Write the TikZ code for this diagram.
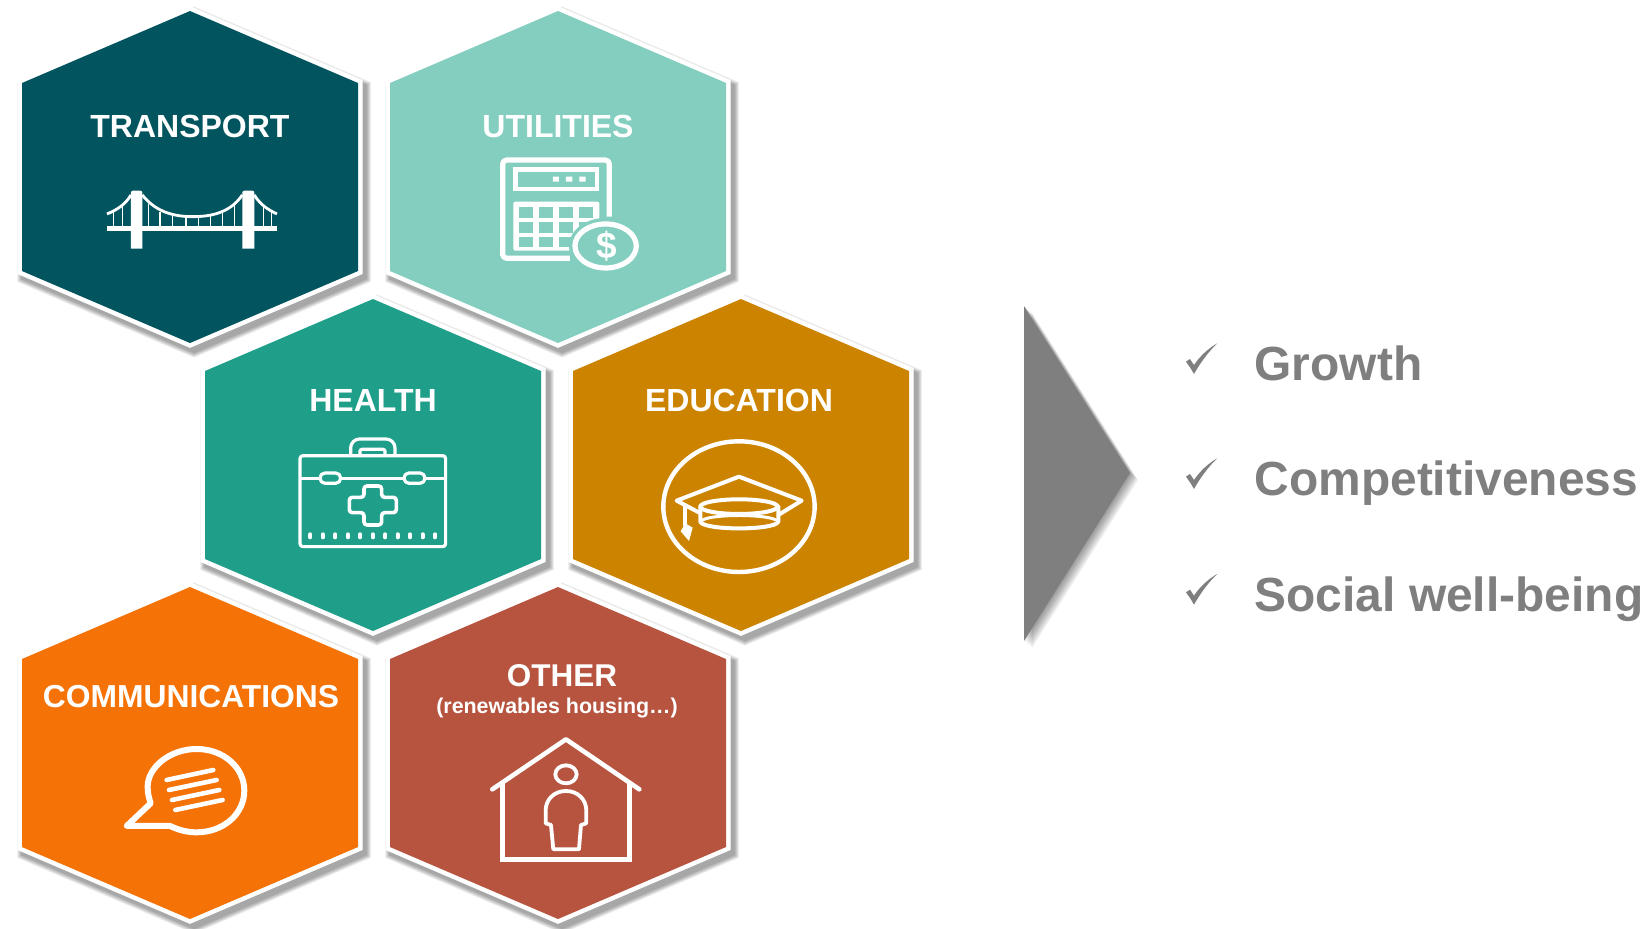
\documentclass[tikz,border=0pt]{standalone}
\usepackage{fontspec}
\setmainfont{Liberation Sans}
\definecolor{ctransport}{HTML}{02545F}
\definecolor{cutil}{HTML}{84CEC0}
\definecolor{chealth}{HTML}{1F9F8A}
\definecolor{cedu}{HTML}{CC8400}
\definecolor{ccomm}{HTML}{F57206}
\definecolor{cother}{HTML}{B75440}
\definecolor{cgrey}{HTML}{7F7F7F}
\tikzset{
  hexlabel/.style={text=white,anchor=base,inner sep=0pt,font=\fontsize{#1}{#1}\selectfont\bfseries},
  hexlabel/.default=32,
  outcome/.style={text=cgrey,anchor=base west,inner sep=0pt,font=\fontsize{47.9}{47.9}\selectfont\bfseries},
  ico/.style={draw=white,line width=#1,line join=round,line cap=round},
  ico/.default=3pt,
  zoomed/.style={x=.3333pt,y=-.3333pt}
}
\newcommand{\hexpath}{(0,0) -- (168,72) -- (168,260) -- (0,332) -- (-168,260) -- (-168,72) -- cycle}
\newcommand{\hexcell}[3]{%
  \begin{scope}[shift={(#1,#2)}]
    \begin{scope}[shift={(4,5)}]
      \foreach \w in {18,17,16,15,14,13,12,11,10,9}{
        \draw[black,opacity=.04,line width=\w pt,miter limit=3] \hexpath;}
    \end{scope}
    \filldraw[fill=#3,draw=white,line width=9pt,miter limit=10] \hexpath;
    \fill[#3] \hexpath;
  \end{scope}}
\begin{document}
\begin{tikzpicture}[x=1pt,y=-1pt]
\useasboundingbox (0,0) rectangle (1652,929);
\fill[white] (0,0) rectangle (1652,929);

\hexcell{190}{11}{ctransport}
\hexcell{558}{11}{cutil}
\hexcell{373}{299}{chealth}
\hexcell{741}{299}{cedu}
\hexcell{190}{587}{ccomm}
\hexcell{558}{587}{cother}

\node[hexlabel] (transport) at (190,137) {TRANSPORT};
\node[hexlabel] (utilities) at (558,137) {UTILITIES};
\node[hexlabel] (health) at (373,411) {HEALTH};
\node[hexlabel] (education) at (739,411) {EDUCATION};
\node[hexlabel=31.8] (communications) at (191,707) {COMMUNICATIONS};
\node[hexlabel=31.5] (other) at (562,686) {OTHER};
\node[hexlabel=21.4] (othersub) at (557,713.5) {(renewables housing\ldots)};

% bridge
\begin{scope}[shift={(0,0)},zoomed]
  \fill[white] (321,678) rectangle (831,694);
  \fill[white] (393,746) -- (393,578) .. controls (393,574) and (396,572) .. (400,572) -- (420,572) .. controls (424,572) and (427,574) .. (427,578) -- (427,746) -- cycle;
  \fill[white] (727,746) -- (727,578) .. controls (727,574) and (730,572) .. (734,572) -- (756,572) .. controls (760,572) and (763,574) .. (763,578) -- (763,746) -- cycle;
  \draw[ico=2.8pt,line cap=butt] (427,585) .. controls (470,640) and (530,650) .. (578,650) .. controls (630,650) and (690,640) .. (727,585);
  \draw[ico=2.8pt,line cap=butt] (393,585) .. controls (375,615) and (350,630) .. (321,642);
  \draw[ico=2.8pt,line cap=butt] (763,585) .. controls (781,615) and (806,630) .. (831,642);
  \foreach \xx/\yy in {340/632,368/618,445/612,480/635,518/646,558/650,596/650,632/646,668/635,703/612,790/618,815/632}{
    \draw[white,line width=1.3pt] (\xx,\yy) -- (\xx,680);}
\end{scope}

% calculator
\begin{scope}[shift={(380,0)},zoomed]
  \draw[ico=5.2pt,line cap=butt,rounded corners=4pt] (688,650) -- (688,480) -- (368,480) -- (368,775) -- (570,775);
  \draw[ico=4.8pt,line join=miter] (407,509) rectangle (651,567);
  \fill[white] (519,530) rectangle (537,545) (558,530) rectangle (577,545) (598,530) rectangle (617,545);
  \fill[white,rounded corners=2pt] (400,605) rectangle (658,752);
  \foreach \cx in {417,478,538,598}{
    \foreach \cy/\ch in {620/35,665/35,710/30}{
      \fill[cutil] (\cx,\cy) rectangle (\cx+41,\cy+\ch);}}
  \fill[cutil] (677,738) ellipse [x radius=110,y radius=84];
  \draw[ico=5.2pt] (677,738) ellipse [x radius=92,y radius=66];
  \node[text=white,inner sep=0pt,font=\fontsize{37}{37}\selectfont\bfseries] (dollar) at (680,738) {\$};
\end{scope}

% briefcase
\begin{scope}[shift={(190,290)},zoomed]
  \draw[ico=3.2pt,rounded corners=3pt] (330,497) rectangle (767,770);
  \draw[ico=3.2pt,rounded corners=9pt] (482,495) -- (482,447) -- (615,447) -- (615,495);
  \draw[ico=3.2pt,rounded corners=2pt] (510,495) -- (510,478) -- (585,478) -- (585,495);
  \draw[ico=3.2pt] (332,565) -- (390,565) (452,565) -- (642,565) (705,565) -- (765,565);
  \draw[ico=3.2pt,rounded corners=5pt] (390,549) rectangle (452,580);
  \draw[ico=3.2pt,rounded corners=5pt] (642,549) rectangle (705,580);
  \draw[ico=3.6pt,rounded corners=3pt] (522,588) -- (575,588) -- (575,622) -- (619,622) -- (619,668) -- (575,668) -- (575,705) -- (522,705) -- (522,668) -- (478,668) -- (478,622) -- (522,622) -- cycle;
  \foreach \i in {0,...,10}{
    \draw[white,line width=4pt,line cap=round] ({361+37.4*\i},733) -- ({361+37.4*\i},742);}
\end{scope}

% graduation cap
\begin{scope}[shift={(560,290)},zoomed]
  \draw[ico=4.4pt] (537,650) ellipse [x radius=227,y radius=196];
  \draw[ico=4pt] (418,668) -- (350,632) -- (537,560) -- (725,632) -- (660,672);
  \draw[ico=4pt] (537,650) ellipse [x radius=116,y radius=22];
  \draw[ico=4pt] (421,650) -- (421,695) .. controls (430,722) and (645,722) .. (655,695) -- (655,650);
  \draw[ico=3pt] (428,690) .. controls (460,672) and (615,672) .. (648,690);
  \draw[ico=4pt] (376,648) -- (376,705);
  \fill[white] (376,700) -- (398,713) -- (387,753) -- (362,724) -- cycle;
\end{scope}

% speech bubble
\begin{scope}[shift={(0,580)},zoomed]
  \draw[ico=6pt] (452,670) -- (380,738) -- (510,738) .. controls (540,752) and (565,757) .. (590,757) .. controls (670,757) and (733,702) .. (733,632) .. controls (733,562) and (670,507) .. (590,507) .. controls (510,507) and (443,562) .. (443,620) .. controls (443,640) and (447,655) .. (452,670) -- cycle;
  \draw[ico=4.6pt] (500,600) -- (640,570);
  \draw[ico=4.6pt] (507,630) -- (650,600);
  \draw[ico=4.6pt] (516,660) -- (658,630);
  \draw[ico=4.6pt] (526,690) -- (668,660);
\end{scope}

% house
\begin{scope}[shift={(380,580)},zoomed]
  \draw[ico=4.6pt] (337,628) -- (558,478) -- (778,628);
  \draw[ico=5pt,line join=miter,line cap=butt] (367,608) -- (367,840) -- (750,840) -- (750,608);
  \draw[ico=3.8pt] (558,583) ellipse [x radius=32,y radius=27];
  \draw[ico=3.8pt] (558,633) .. controls (595,633) and (619,660) .. (619,692) -- (619,730) -- (603,735) -- (597,808) -- (520,808) -- (513,735) -- (497,730) -- (497,692) .. controls (497,660) and (521,633) .. (558,633) -- cycle;
\end{scope}

% arrow triangle
\foreach \s in {1,...,8}{
  \fill[black,opacity=.055,shift={(\s,.9*\s)}] (1024,306) -- (1130,473) -- (1024,641) -- cycle;}
\fill[cgrey] (1024,306) -- (1130,473) -- (1024,641) -- cycle;

% outcomes
\begin{scope}[shift={(1010,290)},zoomed]
  \foreach \dy in {0,345,692}{
    \fill[cgrey,shift={(0,\dy)}] (528,215) -- (540,207) -- (552,225) .. controls (572,195) and (600,172) .. (622,160) .. controls (595,185) and (570,220) .. (552,252) -- (542,235) -- cycle;}
\end{scope}
\node[outcome] (growth) at (1254.5,380) {Growth};
\node[outcome] (competitiveness) at (1254.5,495) {Competitiveness};
\node[outcome] (wellbeing) at (1254.5,611) {Social well-being};
\end{tikzpicture}
\end{document}
